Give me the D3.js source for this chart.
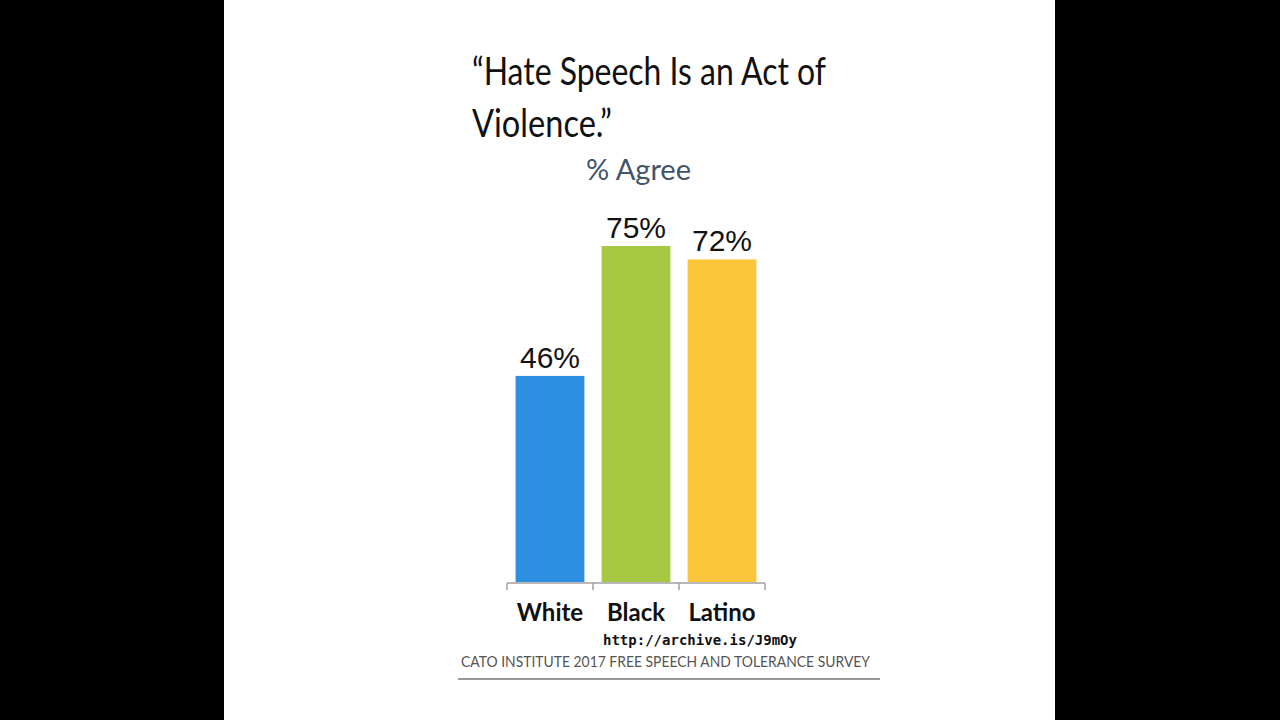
<!DOCTYPE html>
<html>
<head>
<meta charset="utf-8">
<script src="https://cdnjs.cloudflare.com/ajax/libs/d3/7.8.5/d3.min.js"></script>
<style>
  body { margin: 0; background: #000; }
  .cat { font-family: Lato, "Open Sans", sans-serif; font-weight: bold; font-size: 24px; fill: #111; }
  .val { font-family: "Liberation Sans", Arial, sans-serif; font-size: 30px; fill: #111; }
</style>
</head>
<body>
<script>
// data
var groups = ["White", "Black", "Latino"];
var agree = [46, 75, 72];
var colors = ["#2c8fe2", "#a7c843", "#fbc53c"];

var width = 1280,
    height = 720;

var svg = d3.select("body").append("svg")
    .attr("width", width)
    .attr("height", height);

// white page in the middle
svg.append("rect")
    .attr("x", 224)
    .attr("y", 0)
    .attr("width", 831)
    .attr("height", height)
    .attr("fill", "#fff");

// scales
var x = d3.scaleBand().domain(groups).range([507, 765]).paddingInner(0.2).paddingOuter(0.1);
var y = d3.scaleLinear().domain([0, 100]).range([582, 134]);

// bars
svg.selectAll(".bar")
    .data(groups)
  .enter().append("rect")
    .attr("class", "bar")
    .attr("x", function(d) { return x(d); })
    .attr("y", function(d, i) { return y(agree[i]); })
    .attr("width", x.bandwidth())
    .attr("height", function(d, i) { return y(0) - y(agree[i]); })
    .attr("fill", function(d, i) { return colors[i]; });

// value labels
svg.selectAll(".val")
    .data(groups)
  .enter().append("text")
    .attr("class", "val")
    .attr("text-anchor", "middle")
    .attr("x", function(d) { return x(d) + x.bandwidth() / 2; })
    .attr("y", function(d, i) { return y(agree[i]) - 8; })
    .text(function(d, i) { return agree[i] + "%"; });

// axis line with ticks between the categories
var axis = svg.append("g").attr("stroke", "#a0a0a0").attr("stroke-width", 1.5);
axis.append("line")
    .attr("x1", 507).attr("x2", 765)
    .attr("y1", y(0) + 1).attr("y2", y(0) + 1);
var edges = groups.map(function(d) { return x(d) - x.step() * x.paddingInner() / 2; });
edges.push(x(groups[groups.length - 1]) + x.bandwidth() + x.step() * x.paddingInner() / 2);
axis.selectAll(".tick")
    .data(edges)
  .enter().append("line")
    .attr("x1", function(d) { return d; }).attr("x2", function(d) { return d; })
    .attr("y1", y(0) + 1).attr("y2", y(0) + 8);

// category labels
svg.selectAll(".cat")
    .data(groups)
  .enter().append("text")
    .attr("class", "cat")
    .attr("text-anchor", "middle")
    .attr("x", function(d) { return x(d) + x.bandwidth() / 2; })
    .attr("y", 621)
    .text(function(d) { return d; });

// Titles
svg.append("text")
    .attr("x", 472).attr("y", 85)
    .attr("font-family", "Lato, sans-serif")
    .attr("font-size", 39)
    .attr("fill", "#111")
    .attr("textLength", 354)
    .attr("lengthAdjust", "spacingAndGlyphs")
    .text("\u201cHate Speech Is an Act of");

svg.append("text")
    .attr("x", 472).attr("y", 137)
    .attr("font-family", "Lato, sans-serif")
    .attr("font-size", 39)
    .attr("fill", "#111")
    .attr("textLength", 140)
    .attr("lengthAdjust", "spacingAndGlyphs")
    .text("Violence.\u201d");

svg.append("text")
    .attr("x", 586).attr("y", 180)
    .attr("font-family", "Lato, sans-serif")
    .attr("font-size", 28)
    .attr("fill", "#44546a")
    .attr("textLength", 105)
    .attr("lengthAdjust", "spacingAndGlyphs")
    .text("% Agree");

// Source
svg.append("text")
    .attr("x", 603).attr("y", 645)
    .attr("font-family", "'DejaVu Sans Mono', monospace")
    .attr("font-weight", "bold")
    .attr("font-size", 14)
    .attr("fill", "#111")
    .attr("textLength", 194)
    .attr("lengthAdjust", "spacingAndGlyphs")
    .text("http://archive.is/J9mOy");

svg.append("text")
    .attr("x", 461).attr("y", 667)
    .attr("font-family", "Lato, sans-serif")
    .attr("font-size", 15)
    .attr("fill", "#555")
    .attr("textLength", 409)
    .attr("lengthAdjust", "spacingAndGlyphs")
    .text("CATO INSTITUTE 2017 FREE SPEECH AND TOLERANCE SURVEY");

svg.append("line")
    .attr("x1", 458).attr("x2", 880)
    .attr("y1", 679).attr("y2", 679)
    .attr("stroke", "#999")
    .attr("stroke-width", 2);
</script>
</body>
</html>
